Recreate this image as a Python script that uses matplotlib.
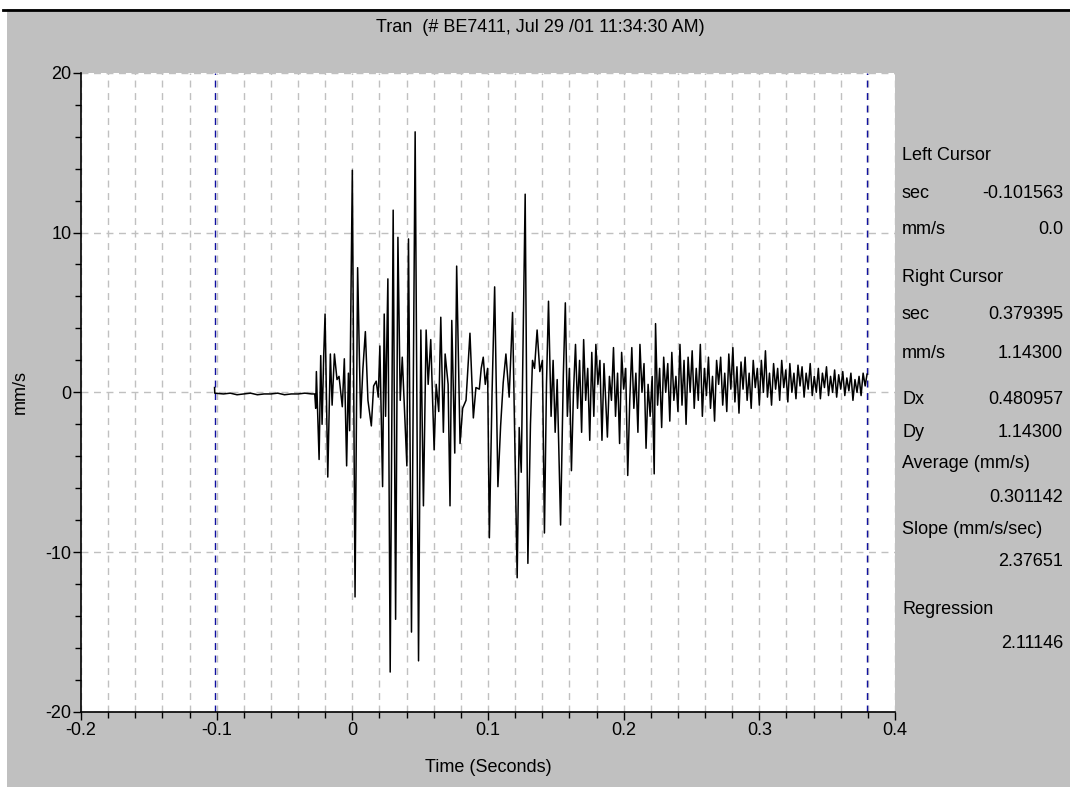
import numpy as np
import matplotlib.pyplot as plt
from matplotlib.ticker import MultipleLocator
import matplotlib.lines as mlines
import matplotlib.patches as mpatches

# chart text
title = 'Tran  (# BE7411, Jul 29 /01 11:34:30 AM)'
xlabel = 'Time (Seconds)'
ylabel = 'mm/s'

# cursor positions (seconds)
left_cursor = -0.101563
right_cursor = 0.379395

# side panel rows: label, value
panel_labels = ['Left Cursor', 'sec', 'mm/s', 'Right Cursor', 'sec', 'mm/s', 'Dx', 'Dy',
                'Average (mm/s)', '', 'Slope (mm/s/sec)', '', 'Regression', '']
panel_values = ['', '-0.101563', '0.0', '', '0.379395', '1.14300', '0.480957', '1.14300',
                '', '0.301142', '', '2.37651', '', '2.11146']
panel_y = [155, 193, 230, 278, 315, 353, 400, 432, 464, 497, 529, 562, 610, 643]  # px from top

x_ticks = [-0.2, -0.1, 0, 0.1, 0.2, 0.3, 0.4]
x_ticklabels = ['-0.2', '-0.1', '0', '0.1', '0.2', '0.3', '0.4']
y_ticks = [-20, -10, 0, 10, 20]
y_ticklabels = ['-20', '-10', '0', '10', '20']

# trace (turning points)
t_pre = [-0.101563, -0.1014, -0.095, -0.09, -0.085, -0.08, -0.075, -0.07, -0.065,
         -0.06, -0.055, -0.05, -0.045, -0.04, -0.035, -0.03, -0.0277]
v_pre = [0.3, -0.05, -0.1, -0.05, -0.15, -0.1, -0.05, -0.15, -0.1,
         -0.1, -0.05, -0.15, -0.1, -0.1, -0.05, -0.1, -0.1]

t_main = [-0.027, -0.0265, -0.0245, -0.0233, -0.0223, -0.0211, -0.0201, -0.0181, -0.0162,
          -0.0149, -0.0132, -0.0113, -0.0098, -0.0074, -0.0059, -0.0042, -0.0029, -0.002,
          -0.001, 0.0, 0.002, 0.0039, 0.0061, 0.0078, 0.0096, 0.0115, 0.014, 0.0157,
          0.0176, 0.0191, 0.0203, 0.0223, 0.0235, 0.0245, 0.0262, 0.0279, 0.0301, 0.0319,
          0.0336, 0.0353, 0.0368, 0.0402, 0.0414, 0.0436, 0.0463, 0.0488, 0.0505, 0.0524,
          0.0544, 0.0559, 0.0578, 0.0603, 0.0618, 0.0637, 0.0652, 0.0671, 0.0684, 0.0706,
          0.072, 0.0733, 0.0755, 0.0769, 0.0794, 0.0813, 0.0838, 0.0867, 0.0892, 0.0911,
          0.0936, 0.095, 0.0965, 0.0980, 0.0997, 0.101, 0.103, 0.1049, 0.1073, 0.1093,
          0.1112, 0.1132, 0.1156, 0.1181, 0.1215, 0.123, 0.1245, 0.1274, 0.1294, 0.1313,
          0.1328, 0.1343, 0.1362, 0.1382, 0.1401, 0.1416, 0.1431, 0.1446]
v_main = [-1.0, 1.3, -4.2, 2.3, -2.0, 2.3, 4.9, -5.3, 2.4,
          -0.8, 2.4, 0.8, 1.0, -0.9, 2.1, -4.6, 1.2, -2.4,
          6.1, 13.9, -12.8, 7.8, -1.6, 1.5, 3.8, -0.5, -2.1, 0.4,
          0.7, -0.3, 2.9, -5.9, 4.9, -1.5, 7.1, -17.5, 11.4, -14.2,
          9.7, -0.5, 2.2, -4.6, 9.6, -15.0, 16.3, -16.8, 3.9, -7.1,
          3.9, 0.5, 3.3, -3.6, 0.5, -1.2, 4.7, -2.5, 2.4, 0.5,
          -7.1, 4.5, -3.8, 7.9, -3.2, -1.0, -0.5, 3.7, -1.6, 0.3,
          0.2, 1.5, 2.2, 0.5, 1.5, -9.1, 0.0, 6.6, -5.9, -2.1,
          0.6, 2.4, -0.3, 5.0, -11.6, -2.2, -5.0, 12.4, -10.7, -2.0,
          2.0, 1.5, 3.9, 1.3, 2.0, -8.8, 0.5, 5.7]

t_mid = [0.1465, 0.148, 0.1495, 0.151, 0.1535, 0.1555, 0.157, 0.1585, 0.160, 0.1615,
         0.163, 0.1645, 0.166, 0.1675, 0.169, 0.1705, 0.172, 0.1735, 0.175, 0.1765,
         0.178, 0.1795, 0.181, 0.1825, 0.184, 0.1855, 0.187]
v_mid = [-1.5, 2.0, -2.5, 0.8, -8.3, 1.0, 5.6, -1.5, 1.5, -4.9,
         0.0, 3.0, -1.0, 2.0, -2.5, 3.3, -0.5, 1.5, -3.0, 2.5,
         -1.5, 3.0, 0.5, 2.0, -3.0, 1.8, -1.0]

t_tail = [0.188, 0.1895, 0.191, 0.1925, 0.194, 0.1955, 0.197, 0.1985, 0.200, 0.2015,
          0.203, 0.2045, 0.206, 0.2075, 0.209, 0.2105, 0.212, 0.2135, 0.215, 0.2165,
          0.218, 0.2195, 0.221, 0.2225, 0.2235, 0.225, 0.2265, 0.228, 0.2295, 0.231,
          0.2325, 0.234, 0.2355, 0.237, 0.2385, 0.240, 0.2415, 0.243, 0.2445, 0.246,
          0.2475, 0.249, 0.2505, 0.252, 0.2535, 0.255, 0.2565, 0.258, 0.2595, 0.261,
          0.2625, 0.264, 0.2655, 0.267, 0.2685, 0.270, 0.2715, 0.273, 0.2745, 0.276,
          0.2775, 0.279, 0.2805, 0.282, 0.2835, 0.285, 0.2865, 0.288, 0.2895, 0.291,
          0.2925, 0.294, 0.2955, 0.297, 0.2985, 0.300, 0.3015, 0.303, 0.3045, 0.306,
          0.3075, 0.309, 0.3105, 0.312, 0.3135, 0.315, 0.3165, 0.318, 0.3195, 0.321,
          0.3225, 0.324, 0.3255, 0.327, 0.3285, 0.330, 0.3315, 0.333, 0.3345, 0.336,
          0.3375, 0.339, 0.3405, 0.342, 0.3435, 0.345, 0.3465, 0.348, 0.3495, 0.351,
          0.3525, 0.354, 0.3555, 0.357, 0.3585, 0.360, 0.3615, 0.363, 0.3645, 0.366,
          0.3675, 0.369, 0.3705, 0.372, 0.3735, 0.375, 0.3765, 0.378, 0.3794]
v_tail = [-2.8, 1.0, -0.5, 2.8, -1.5, 1.2, -3.2, 2.5, 0.2, 1.5,
          -5.2, -0.5, 2.8, -1.0, 1.2, -2.5, 3.0, 0.0, 1.8, -3.5,
          0.5, -1.5, 1.0, -5.1, 4.3, -0.8, 1.5, -2.2, 2.2, 0.0,
          1.8, -1.8, 2.5, -0.5, 1.0, -1.2, 3.0, -0.8, 2.0, -2.0,
          2.2, 0.0, 2.6, -1.0, 1.5, -0.5, 3.0, -1.5, 1.5, -0.2,
          2.2, -1.0, 1.0, -1.8, 2.0, 0.5, 2.2, -0.8, 1.2, -1.2,
          2.4, 0.2, 2.8, -0.6, 1.6, -1.3, 1.9, 0.2, 2.2, -0.5,
          1.2, -1.0, 2.0, 0.3, 1.5, -0.8, 2.0, 0.0, 2.6, -0.3,
          1.2, -0.8, 1.8, 0.2, 1.5, -0.5, 2.0, 0.3, 1.4, -0.6,
          1.8, 0.0, 1.2, -0.4, 1.7, 0.4, 1.6, -0.3, 1.2, 0.2,
          1.8, -0.2, 1.0, 0.0, 1.5, -0.4, 1.2, 0.3, 1.6, -0.2,
          1.0, 0.0, 1.4, -0.3, 1.1, 0.2, 1.3, -0.2, 0.9, 0.1,
          1.2, -0.5, 0.8, 0.0, 1.0, -0.2, 1.2, 0.4, 1.14]

t = np.array(t_pre + t_main + t_mid + t_tail)
v = np.array(v_pre + v_main + v_mid + v_tail)

W, H = 1070, 787
FS = 13
plt.rcParams['font.family'] = ['Liberation Sans Narrow', 'Liberation Sans', 'DejaVu Sans']
fig = plt.figure(figsize=(W / 100, H / 100), dpi=100, facecolor='#c0c0c0')

# white frame strip at top/left and the black rule under it
fig.patches.append(mpatches.Rectangle((0, 0), 7 / W, 1, transform=fig.transFigure,
                                      facecolor='white', edgecolor='none', zorder=0))
fig.patches.append(mpatches.Rectangle((0, 1 - 9 / H), 1, 9 / H, transform=fig.transFigure,
                                      facecolor='white', edgecolor='none', zorder=0))
fig.lines.append(mlines.Line2D([3 / W, 1], [1 - 10 / H, 1 - 10 / H], transform=fig.transFigure,
                               color='black', lw=2))

ax = fig.add_axes([81 / W, 75 / H, 814 / W, 639.3 / H])
ax.set_facecolor('white')
ax.set_xlim(-0.2, 0.4)
ax.set_ylim(-20, 20)

ax.set_xticks(x_ticks)
ax.set_xticklabels(x_ticklabels)
ax.set_yticks(y_ticks)
ax.set_yticklabels(y_ticklabels)
ax.xaxis.set_minor_locator(MultipleLocator(0.02))
ax.yaxis.set_minor_locator(MultipleLocator(2))
ax.tick_params(which='major', length=6, width=1, labelsize=FS, color='black', pad=1)
ax.tick_params(which='minor', length=4, width=1, color='black')

for s in ['top', 'right']:
    ax.spines[s].set_visible(False)
for s in ['left', 'bottom']:
    ax.spines[s].set_linewidth(1.2)

# grid: vertical at every 0.02 s, horizontal at major y ticks
ax.grid(True, which='both', axis='x', color='#c0c0c0', linestyle=(0, (5, 4)), lw=1)
ax.grid(True, which='major', axis='y', color='#c0c0c0', linestyle=(0, (5, 4)), lw=1)
ax.set_axisbelow(True)

ax.axvline(left_cursor, color='#1010a0', linestyle=(0, (5, 4)), lw=1)
ax.axvline(right_cursor, color='#1010a0', linestyle=(0, (5, 4)), lw=1)

ax.plot(t, v, color='black', lw=1.1)

fig.text(488 / W, 1 - 767 / H, xlabel, ha='center', va='center', fontsize=FS)
fig.text(20 / W, 1 - 392 / H, ylabel, ha='center', va='center', rotation=90, fontsize=FS)
fig.text(540 / W, 1 - 27 / H, title, ha='center', va='center', fontsize=FS)

# side panel
xl, xr = 902 / W, 1063 / W
for lab, val, yp in zip(panel_labels, panel_values, panel_y):
    if lab:
        fig.text(xl, 1 - yp / H, lab, ha='left', va='center', fontsize=FS)
    if val:
        fig.text(xr, 1 - yp / H, val, ha='right', va='center', fontsize=FS)

fig.savefig('out.png', dpi=100, facecolor=fig.get_facecolor())
